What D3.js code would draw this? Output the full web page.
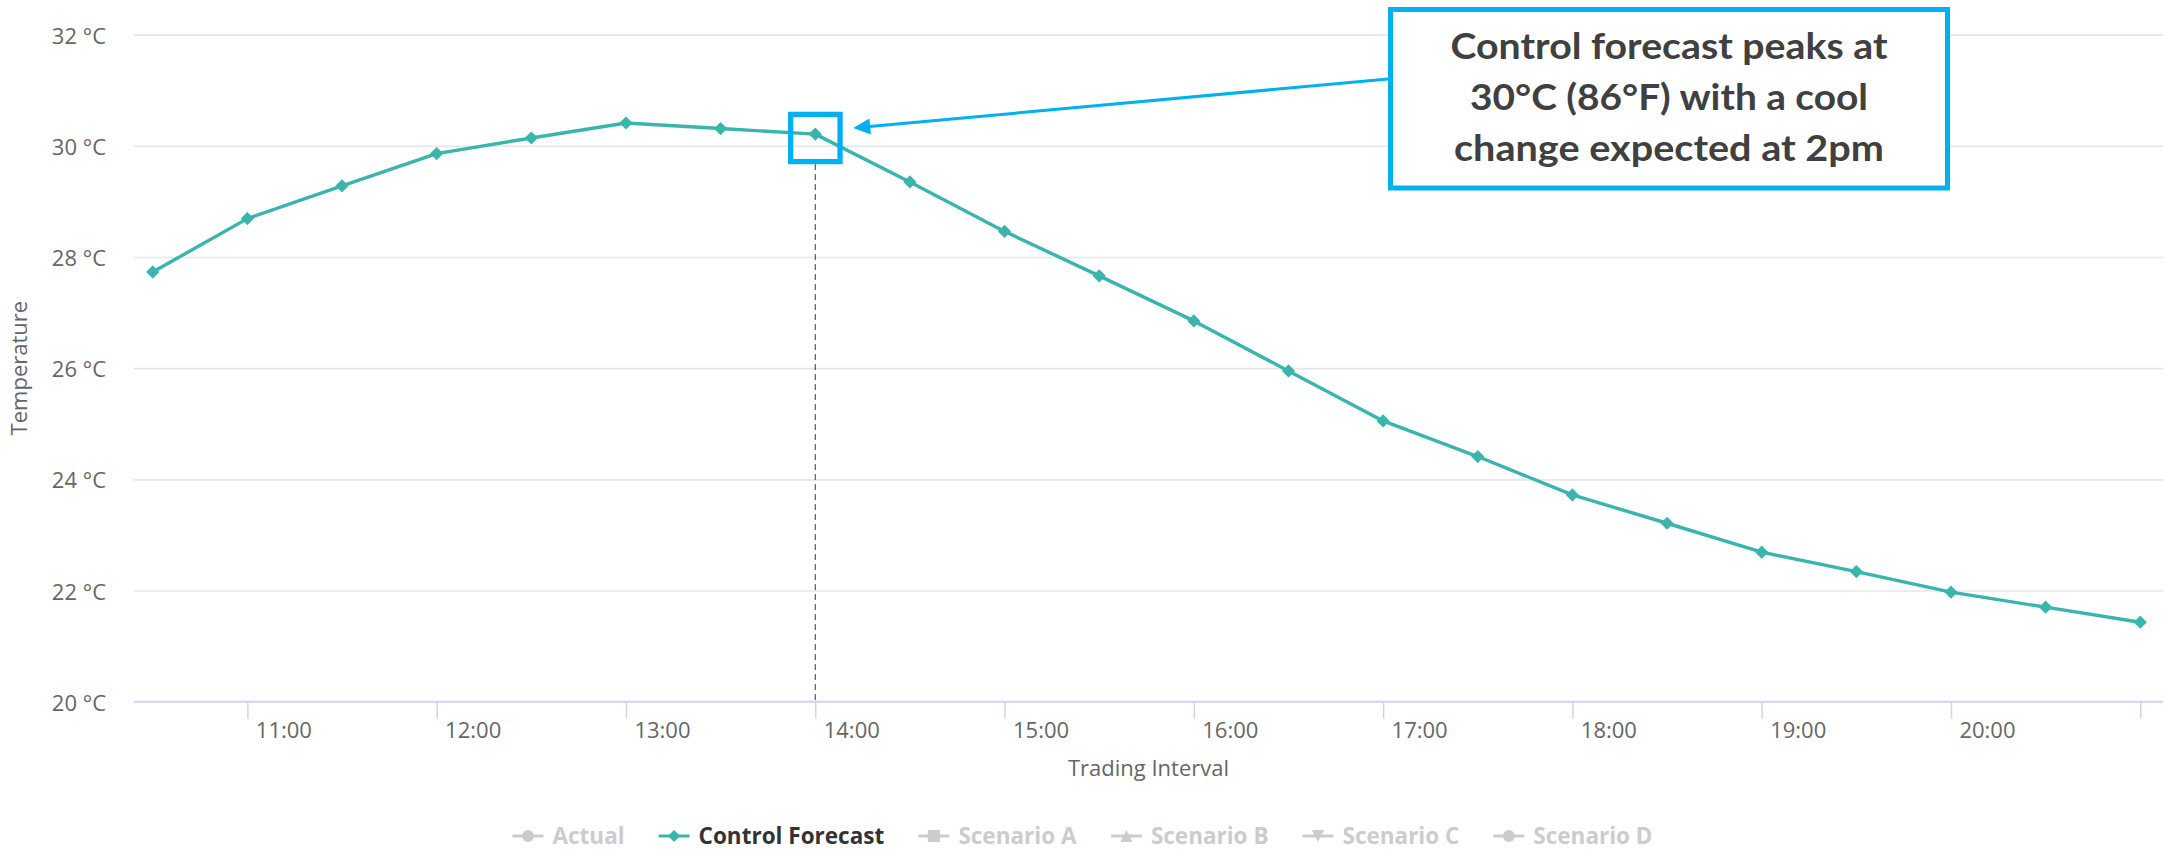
<!DOCTYPE html>
<html>
<head>
<meta charset="utf-8">
<script src="https://cdn.jsdelivr.net/npm/d3@7"></script>
<style>
  html, body { margin: 0; padding: 0; background: #fff; }
  svg { display: block; }
</style>
</head>
<body>
<svg id="chart" width="2165" height="850"></svg>
<script>
// ---------------- DATA ----------------
const times = ["10:30","11:00","11:30","12:00","12:30","13:00","13:30","14:00","14:30","15:00","15:30",
               "16:00","16:30","17:00","17:30","18:00","18:30","19:00","19:30","20:00","20:30","21:00"];
const controlForecast = [27.73, 28.69, 29.28, 29.86, 30.14, 30.41, 30.31, 30.21, 29.35, 28.46, 27.66,
                         26.85, 25.95, 25.05, 24.41, 23.72, 23.21, 22.69, 22.34, 21.97, 21.70, 21.43];
const xTickLabels = ["11:00","12:00","13:00","14:00","15:00","16:00","17:00","18:00","19:00","20:00","21:00"];
const yTickValues = [20, 22, 24, 26, 28, 30, 32];
const legendNames = ["Actual", "Control Forecast", "Scenario A", "Scenario B", "Scenario C", "Scenario D"];
const legendSymbols = ["circle", "diamond", "square", "triangle", "triangle-down", "circle"];
const legendActive = [false, true, false, false, false, false];
const calloutLines = ["Control forecast peaks at", "30°C (86°F) with a cool", "change expected at 2pm"];
const calloutTime = "14:00";
const yAxisTitle = "Temperature";
const xAxisTitle = "Trading Interval";

// ---------------- LAYOUT ----------------
const W = 2165, H = 850;
const plotL = 134, plotR = 2163, plotT = 34.6, plotB = 701.7;
const teal = "#3ab5ad", blue = "#00b0f0";
const font = "'Open Sans', 'DejaVu Sans', sans-serif";

const toHours = s => { const [h, m] = s.split(":").map(Number); return h + m / 60; };

const x = d3.scaleLinear().domain([10.401, 21.12]).range([plotL, plotR]);
const y = d3.scaleLinear().domain([20, 32]).range([plotB, plotT]);

const svg = d3.select("#chart");

// y axis with gridlines
const yAxis = d3.axisLeft(y)
  .tickValues(yTickValues)
  .tickSize(-(plotR - plotL))
  .tickPadding(28)
  .tickFormat(d => d + " °C");
const gy = svg.append("g").attr("transform", `translate(${plotL},0)`).call(yAxis);
gy.select(".domain").remove();
gy.selectAll(".tick line").attr("stroke", d => d === 20 ? "none" : "#e6e6e6").attr("stroke-width", 1.6);
gy.selectAll(".tick text")
  .attr("fill", "#666").attr("font-family", font).attr("font-size", 22)
  .attr("dy", null).attr("y", 8.5);

// x axis
const xAxis = d3.axisBottom(x)
  .tickValues(xTickLabels.map(toHours))
  .tickSize(17)
  .tickFormat((d, i) => xTickLabels[i]);
const gx = svg.append("g").attr("transform", `translate(0,${plotB})`).call(xAxis);
gx.select(".domain").attr("stroke", "#ccd6eb").attr("stroke-width", 2)
  .attr("d", `M${plotL},0H${plotR}`);
gx.selectAll(".tick line").attr("stroke", "#ccd6eb").attr("stroke-width", 1.5);
gx.selectAll(".tick text")
  .attr("fill", "#666").attr("font-family", font).attr("font-size", 22)
  .attr("text-anchor", "middle").attr("dy", null).attr("x", 36).attr("y", 36)
  .each(function(d) {
    // hide labels that would overflow the chart's right edge
    const bb = this.getBBox();
    if (x(d) + 36 + bb.width / 2 > W) d3.select(this).remove();
  });

// axis titles
svg.append("text")
  .attr("transform", `translate(27,${(plotT + plotB) / 2}) rotate(-90)`)
  .attr("text-anchor", "middle").attr("fill", "#666")
  .attr("font-family", font).attr("font-size", 22)
  .text(yAxisTitle);
svg.append("text")
  .attr("x", (plotL + plotR) / 2).attr("y", 776)
  .attr("text-anchor", "middle").attr("fill", "#666")
  .attr("font-family", font).attr("font-size", 22)
  .text(xAxisTitle);

// dashed vertical marker at callout time
const cx = x(toHours(calloutTime));
const cIdx = times.indexOf(calloutTime);
const cy = y(controlForecast[cIdx]);
svg.append("line")
  .attr("x1", cx).attr("x2", cx).attr("y1", cy + 30).attr("y2", plotB)
  .attr("stroke", "#333").attr("stroke-width", 1).attr("stroke-dasharray", "6,4");

// series line
const line = d3.line().x((d, i) => x(toHours(times[i]))).y(d => y(d));
svg.append("path").datum(controlForecast)
  .attr("d", line).attr("fill", "none")
  .attr("stroke", teal).attr("stroke-width", 3.4).attr("stroke-linejoin", "round");

// symbols
const diamond = { draw(ctx, size) { const r = Math.sqrt(size) / 2; ctx.moveTo(0, -r); ctx.lineTo(r, 0); ctx.lineTo(0, r); ctx.lineTo(-r, 0); ctx.closePath(); } };
const triDown = { draw(ctx, size) { const r = Math.sqrt(size) / 2; ctx.moveTo(-r, -r); ctx.lineTo(r, -r); ctx.lineTo(0, r); ctx.closePath(); } };
const triUp = { draw(ctx, size) { const r = Math.sqrt(size) / 2; ctx.moveTo(0, -r); ctx.lineTo(r, r); ctx.lineTo(-r, r); ctx.closePath(); } };
const symbolFor = name => ({
  "circle": d3.symbolCircle, "diamond": diamond, "square": d3.symbolSquare,
  "triangle": triUp, "triangle-down": triDown
}[name]);

svg.append("g").selectAll("path").data(controlForecast).join("path")
  .attr("transform", (d, i) => `translate(${x(toHours(times[i]))},${y(d)})`)
  .attr("d", d3.symbol(diamond, 175))
  .attr("fill", teal);

// callout highlight square
svg.append("rect")
  .attr("x", cx - 24.6).attr("y", 114.4).attr("width", 49.4).attr("height", 47.2)
  .attr("fill", "none").attr("stroke", blue).attr("stroke-width", 5.3);

// callout box
const box = { x: 1390.5, y: 9.5, w: 557, h: 178.5 };
svg.append("rect")
  .attr("x", box.x).attr("y", box.y).attr("width", box.w).attr("height", box.h)
  .attr("fill", "#fff").attr("stroke", blue).attr("stroke-width", 5);

// arrow
const tipX = cx + 38, tipY = 128;
const startX = box.x - 2.5, startY = 79;
const ang = Math.atan2(tipY - startY, tipX - startX);
const aLen = 17, aHalf = 8;
svg.append("line")
  .attr("x1", startX).attr("y1", startY)
  .attr("x2", tipX - Math.cos(ang) * aLen * 0.8).attr("y2", tipY - Math.sin(ang) * aLen * 0.8)
  .attr("stroke", blue).attr("stroke-width", 3);
const bx = tipX - Math.cos(ang) * aLen, by = tipY - Math.sin(ang) * aLen;
svg.append("path")
  .attr("d", `M${tipX},${tipY}L${bx - Math.sin(ang) * aHalf},${by + Math.cos(ang) * aHalf}L${bx + Math.sin(ang) * aHalf},${by - Math.cos(ang) * aHalf}Z`)
  .attr("fill", blue);

// callout text
const lineWidths = [437, 398, 430];
const baselines = [58.5, 110, 160.5];
svg.append("g").selectAll("text").data(calloutLines).join("text")
  .attr("x", box.x + box.w / 2).attr("y", (d, i) => baselines[i])
  .attr("text-anchor", "middle")
  .attr("font-family", "Lato, 'Open Sans', sans-serif").attr("font-weight", 700).attr("font-size", 37)
  .attr("fill", "#404040")
  .text(d => d)
  .each(function(d, i) {
    const w = this.getComputedTextLength();
    if (Math.abs(w - lineWidths[i]) > 2) {
      d3.select(this).attr("textLength", lineWidths[i]).attr("lengthAdjust", "spacingAndGlyphs");
    }
  });

// legend
const legendY = 836, itemGap = 34, iconW = 31, iconTextGap = 9;
const lg = svg.append("g");
const items = lg.selectAll("g").data(legendNames).join("g");
items.each(function(name, i) {
  const g = d3.select(this);
  const col = legendActive[i] ? teal : "#cccccc";
  g.append("line").attr("x1", 0).attr("x2", iconW).attr("y1", 0).attr("y2", 0)
    .attr("stroke", col).attr("stroke-width", 3);
  g.append("path").attr("transform", `translate(${iconW / 2},0)`)
    .attr("d", d3.symbol(symbolFor(legendSymbols[i]), legendSymbols[i] === "circle" ? 110 : 150))
    .attr("fill", col);
  g.append("text").attr("x", iconW + iconTextGap).attr("y", 7.5)
    .attr("font-family", font).attr("font-weight", 700).attr("font-size", 22.5)
    .attr("fill", legendActive[i] ? "#333333" : "#cccccc")
    .text(name);
});
let cur = 0;
const widths = [];
items.each(function() { widths.push(this.getBBox().width); });
const total = d3.sum(widths) + itemGap * (widths.length - 1);
cur = W / 2 - total / 2;
items.attr("transform", (d, i) => {
  const t = `translate(${cur},${legendY})`;
  cur += widths[i] + itemGap;
  return t;
});
</script>
</body>
</html>
